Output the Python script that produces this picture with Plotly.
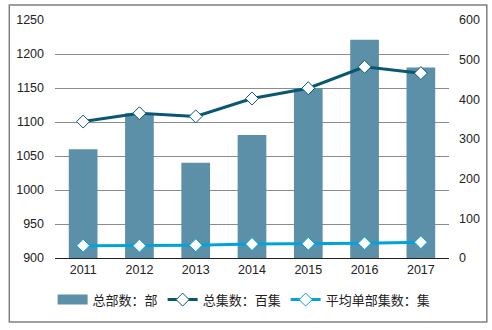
import plotly.graph_objects as go

years = ["2011", "2012", "2013", "2014", "2015", "2016", "2017"]
total_series = [1060, 1113, 1040, 1081, 1150, 1221, 1180]      # 总部数：部
total_episodes = [344, 365, 357, 402, 428, 482, 466]           # 总集数：百集
avg_episodes = [31, 31, 32, 35, 36, 37, 40]                    # 平均单部集数：集

FONT = "Liberation Sans, Arial, Noto Sans CJK SC, sans-serif"
BAR_COLOR = "#5C90A8"

fig = go.Figure()
fig.add_trace(go.Bar(
    x=years, y=total_series, name="总部数：部",
    marker=dict(color=BAR_COLOR, line=dict(width=0)),
    yaxis="y", showlegend=False, legendgroup="bars",
))
# wide rectangular legend swatch for the bar series
fig.add_trace(go.Scatter(
    x=[None], y=[None], name="总部数：部", mode="lines",
    line=dict(color=BAR_COLOR, width=10), legendgroup="bars",
))
fig.add_trace(go.Scatter(
    x=years, y=total_episodes, name="总集数：百集", mode="lines+markers",
    line=dict(color="#0A5773", width=3),
    marker=dict(symbol="diamond", size=10, color="white",
                line=dict(color="#0A5773", width=1)),
    yaxis="y2",
))
fig.add_trace(go.Scatter(
    x=years, y=avg_episodes, name="平均单部集数：集", mode="lines+markers",
    line=dict(color="#00A3DA", width=3),
    marker=dict(symbol="diamond", size=10, color="white",
                line=dict(color="#00A3DA", width=1)),
    yaxis="y2",
))

fig.update_layout(
    width=492, height=330,
    margin=dict(l=55, r=41, t=20, b=72),
    paper_bgcolor="white", plot_bgcolor="white",
    font=dict(family=FONT, size=12, color="#222222"),
    bargap=0.49,
    showlegend=True,
    legend=dict(orientation="h", x=0.48, xanchor="center", y=-0.175, yanchor="middle",
                font=dict(size=13, color="#222222"), itemwidth=30,
                traceorder="normal", tracegroupgap=0),
    xaxis=dict(showline=True, linecolor="#222222", linewidth=1, ticks="",
               showgrid=False, tickfont=dict(size=12.5)),
    yaxis=dict(range=[900, 1250], dtick=50, showgrid=True, gridcolor="#8C8C8C",
               gridwidth=1, zeroline=False, showline=False, ticks="",
               ticklabelstandoff=10, tickfont=dict(size=12.5)),
    yaxis2=dict(range=[0, 600], dtick=100, overlaying="y", side="right",
                showgrid=False, zeroline=False, showline=False, ticks="",
                ticklabelstandoff=9, tickfont=dict(size=12.5)),
    shapes=[dict(type="rect", xref="paper", yref="paper",
                 x0=-0.116, x1=1.096, y0=-0.269, y1=1.063,
                 line=dict(color="#808080", width=1.5), fillcolor="rgba(0,0,0,0)",
                 layer="below")],
)

fig.write_html("out.html")
